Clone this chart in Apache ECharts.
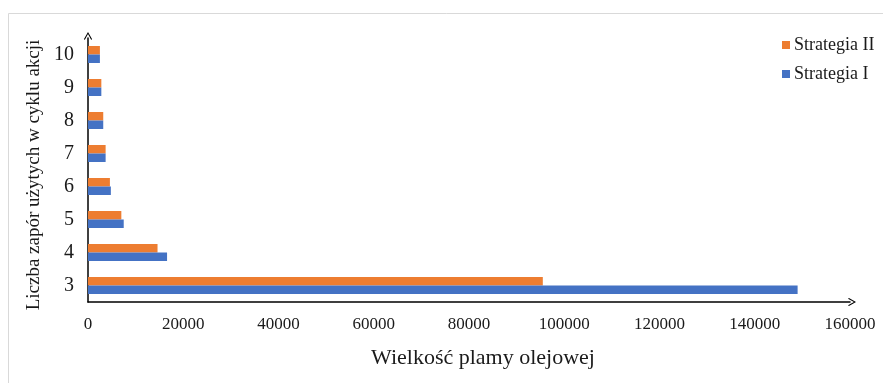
<!DOCTYPE html>
<html>
<head>
<meta charset="utf-8">
<script src="https://cdn.jsdelivr.net/npm/echarts@6/dist/echarts.min.js"></script>
<style>
  html, body { margin: 0; padding: 0; background: #fff; }
  #chart { width: 883px; height: 383px; }
</style>
</head>
<body>
<div id="chart"></div>
<script>
// Number of booms used per action cycle
const categories = ['3', '4', '5', '6', '7', '8', '9', '10'];
// Oil slick size for each strategy
const strategyI = [149000, 16600, 7500, 4800, 3700, 3200, 2800, 2500];
const strategyII = [95500, 14600, 7000, 4600, 3700, 3200, 2800, 2500];
const xTicks = { min: 0, max: 160000, interval: 20000 };

const FONT = '"Liberation Serif", "Times New Roman", serif';
const TEXT = '#1a1a1a';
// open chevron arrowhead pointing up (rotated by the axis)
const chevron = 'path://M5,0 L10,8.8 L9.1,10 L5,2.6 L0.9,10 L0,8.8 Z';

const chart = echarts.init(document.getElementById('chart'));
chart.setOption({
  backgroundColor: '#fff',
  animation: false,
  graphic: [{
    type: 'rect',
    shape: { x: 8.5, y: 13.5, width: 900, height: 400 },
    style: { fill: 'none', stroke: '#d9d9d9', lineWidth: 1 },
    silent: true,
    z: -10
  }],
  legend: {
    orient: 'vertical',
    left: 777,
    top: 31,
    itemWidth: 8,
    itemHeight: 8,
    itemGap: 11,
    icon: 'rect',
    data: ['Strategia II', 'Strategia I'],
    textStyle: { fontFamily: FONT, fontSize: 18, color: TEXT, padding: [0, 0, 0, -1] }
  },
  grid: { left: 88, right: 33, top: 38, bottom: 81, containLabel: false },
  xAxis: {
    type: 'value',
    min: xTicks.min,
    max: xTicks.max,
    interval: xTicks.interval,
    name: 'Wielkość plamy olejowej',
    nameLocation: 'middle',
    nameGap: 45,
    nameTextStyle: { fontFamily: FONT, fontSize: 22, color: TEXT, padding: [0, 0, 0, 28] },
    axisLine: {
      show: true,
      lineStyle: { color: '#000', width: 1.5 },
      symbol: ['none', chevron],
      symbolSize: [13, 8],
      symbolOffset: [0, 2]
    },
    axisTick: { show: false },
    splitLine: { show: false },
    axisLabel: {
      fontFamily: FONT, fontSize: 17, color: TEXT, margin: 14,
      formatter: v => String(v)
    }
  },
  yAxis: {
    type: 'category',
    data: categories,
    name: 'Liczba zapór użytych w cyklu akcji',
    nameLocation: 'middle',
    nameRotate: 90,
    nameGap: 37,
    nameTextStyle: { fontFamily: FONT, fontSize: 19, color: TEXT, padding: [0, 10, 0, 0] },
    axisLine: {
      show: true,
      onZero: false,
      lineStyle: { color: '#000', width: 1.5 },
      symbol: ['none', chevron],
      symbolSize: [13, 8],
      symbolOffset: [0, 2]
    },
    axisTick: { show: false },
    axisLabel: { fontFamily: FONT, fontSize: 20, color: TEXT, margin: 14 }
  },
  series: [
    {
      name: 'Strategia II',
      type: 'bar',
      data: strategyII,
      barWidth: 8.5,
      barGap: '0%',
      itemStyle: { color: '#ED7D31' }
    },
    {
      name: 'Strategia I',
      type: 'bar',
      data: strategyI,
      barWidth: 8.5,
      barGap: '0%',
      itemStyle: { color: '#4472C4' }
    }
  ]
});
</script>
</body>
</html>
